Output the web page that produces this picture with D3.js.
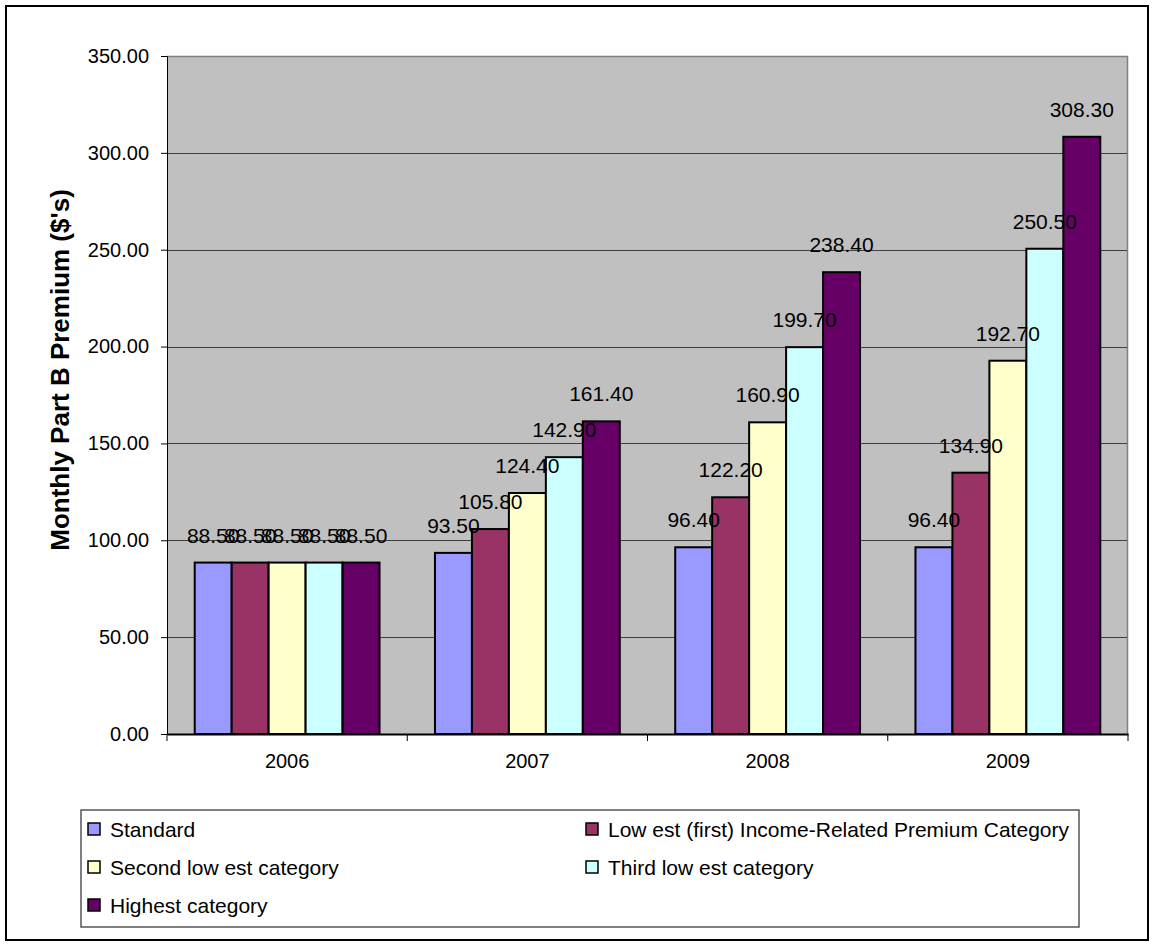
<!DOCTYPE html>
<html>
<head>
<meta charset="utf-8">
<script src="https://cdn.jsdelivr.net/npm/d3@7"></script>
<style>
  html, body { margin: 0; padding: 0; background: #fff; }
  svg text { font-family: Arial, "Liberation Sans", sans-serif; }
</style>
</head>
<body>
<svg id="chart" width="1154" height="946"></svg>
<script>
const years = ["2006", "2007", "2008", "2009"];
const seriesNames = [
  "Standard",
  "Low est (first) Income-Related Premium Category",
  "Second low est category",
  "Third low est category",
  "Highest category"
];
const standard = [88.5, 93.5, 96.4, 96.4];
const lowest = [88.5, 105.8, 122.2, 134.9];
const secondLowest = [88.5, 124.4, 160.9, 192.7];
const thirdLowest = [88.5, 142.9, 199.7, 250.5];
const highest = [88.5, 161.4, 238.4, 308.3];
const seriesValues = [standard, lowest, secondLowest, thirdLowest, highest];
const colors = ["#9999FF", "#993366", "#FFFFCC", "#CCFFFF", "#660066"];
const yTicks = [0, 50, 100, 150, 200, 250, 300, 350];
const yTitle = "Monthly Part B Premium ($'s)";

const svg = d3.select("#chart");
const plot = { left: 167, right: 1128, top: 56, bottom: 734 };

// outer border
svg.append("rect").attr("x", 6).attr("y", 6).attr("width", 1142).attr("height", 934)
  .attr("fill", "#fff").attr("stroke", "#000").attr("stroke-width", 2);

const y = d3.scaleLinear().domain([0, 350]).range([plot.bottom, plot.top]);
const x0 = d3.scaleBand().domain(years).range([plot.left, plot.right])
  .paddingInner(1.5 / 6.5).paddingOuter(0.75 / 6.5);
const x1 = d3.scaleBand().domain(d3.range(seriesNames.length)).range([0, x0.bandwidth()]).padding(0);

// plot background
svg.append("rect").attr("x", plot.left).attr("y", plot.top)
  .attr("width", plot.right - plot.left).attr("height", plot.bottom - plot.top)
  .attr("fill", "#C0C0C0");

// gridlines
svg.append("g").selectAll("line").data(yTicks.filter(d => d > 0 && d < 350)).join("line")
  .attr("x1", plot.left).attr("x2", plot.right)
  .attr("y1", d => Math.round(y(d)) + 0.5).attr("y2", d => Math.round(y(d)) + 0.5)
  .attr("stroke", "#404040").attr("stroke-width", 1);

// plot border top / right
svg.append("path")
  .attr("d", `M${plot.left},${plot.top + 0.5}H${plot.right - 0.5}V${plot.bottom}`)
  .attr("fill", "none").attr("stroke", "#808080").attr("stroke-width", 1.5);

// y axis
const yAxis = d3.axisLeft(y).tickValues(yTicks).tickFormat(d3.format(".2f")).tickSize(6).tickPadding(12);
const gy = svg.append("g").attr("transform", `translate(${plot.left},0)`).call(yAxis);
gy.select(".domain").attr("stroke", "#000").attr("stroke-width", 1);
gy.selectAll(".tick line").attr("stroke", "#000");
gy.selectAll(".tick text").attr("font-size", 20).attr("fill", "#000")
  .attr("font-family", "Arial, 'Liberation Sans', sans-serif");

// bars
const groups = svg.append("g").selectAll("g").data(years).join("g")
  .attr("transform", d => `translate(${x0(d)},0)`);
groups.selectAll("rect").data((yr, i) => seriesValues.map((vals, s) => ({ s, v: vals[i] }))).join("rect")
  .attr("x", d => x1(d.s)).attr("width", x1.bandwidth())
  .attr("y", d => y(d.v)).attr("height", d => y(0) - y(d.v))
  .attr("fill", d => colors[d.s]).attr("stroke", "#000").attr("stroke-width", 2);

// x axis
const xAxisScale = d3.scaleBand().domain(years).range([plot.left, plot.right]);
const gx = svg.append("g").attr("transform", `translate(0,${plot.bottom})`)
  .call(d3.axisBottom(xAxisScale).tickSize(0).tickPadding(20));
gx.select(".domain").attr("stroke", "#000").attr("stroke-width", 2);
gx.selectAll(".tick text").attr("font-size", 20).attr("fill", "#000")
  .attr("font-family", "Arial, 'Liberation Sans', sans-serif");
svg.append("g").selectAll("line").data(d3.range(years.length + 1)).join("line")
  .attr("x1", i => plot.left + i * xAxisScale.step()).attr("x2", i => plot.left + i * xAxisScale.step())
  .attr("y1", plot.bottom).attr("y2", plot.bottom + 7)
  .attr("stroke", "#000").attr("stroke-width", 1);

// data labels (drawn after all bars)
const labelG = svg.append("g");
years.forEach((yr, i) => {
  seriesValues.forEach((vals, s) => {
    labelG.append("text")
      .attr("x", x0(yr) + x1(s) + x1.bandwidth() / 2)
      .attr("y", y(vals[i]) - 20)
      .attr("text-anchor", "middle")
      .attr("font-size", 21).attr("fill", "#000")
      .text(d3.format(".2f")(vals[i]));
  });
});

// y title
svg.append("text")
  .attr("transform", "translate(69,370) rotate(-90)")
  .attr("text-anchor", "middle")
  .attr("font-size", 26).attr("font-weight", "bold").attr("fill", "#000")
  .text(yTitle);

// legend
svg.append("rect").attr("x", 81).attr("y", 810).attr("width", 998).attr("height", 117)
  .attr("fill", "#fff").attr("stroke", "#555").attr("stroke-width", 1.5);
const legendPos = [
  { x: 88, y: 829 }, { x: 586, y: 829 },
  { x: 88, y: 867 }, { x: 586, y: 867 },
  { x: 88, y: 905 }
];
const lg = svg.append("g").selectAll("g").data(seriesNames).join("g")
  .attr("transform", (d, i) => `translate(${legendPos[i].x},${legendPos[i].y})`);
lg.append("rect").attr("x", 0).attr("y", -6).attr("width", 12).attr("height", 12)
  .attr("fill", (d, i) => colors[i]).attr("stroke", "#000").attr("stroke-width", 1.5);
lg.append("text").attr("x", 22).attr("y", 7.5).attr("font-size", 21).attr("fill", "#000")
  .text(d => d);
</script>
</body>
</html>
